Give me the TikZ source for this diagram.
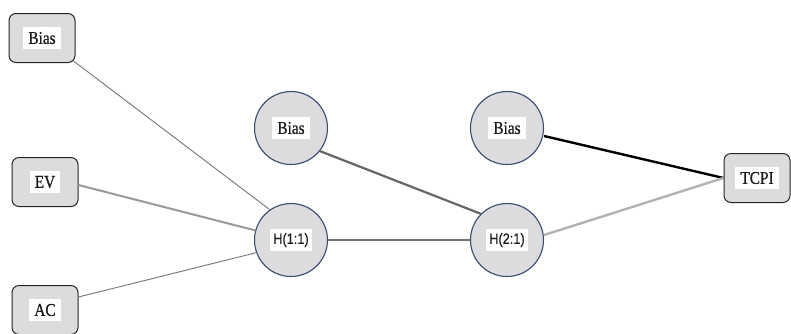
\documentclass[tikz,border=0pt]{standalone}
\usepackage{fontspec}
\setmainfont{Liberation Serif}
\newfontfamily\hfont{Liberation Sans}
\definecolor{ring}{RGB}{55,75,110}
\definecolor{cellfill}{RGB}{220,220,222}
\begin{document}
\begin{tikzpicture}[x=1pt,y=-1pt,
  inbox/.style={draw=black!85,line width=1pt,fill=cellfill,rounded corners=7pt,minimum width=66pt,minimum height=49pt,inner sep=0pt},
  neuron/.style={circle,draw=ring,line width=1.1pt,fill=cellfill,minimum size=73pt,inner sep=0pt},
  lbl/.style={fill=white,inner xsep=5pt,inner ysep=5pt,text=black!90,font=\addfontfeature{FakeStretch=0.85,FakeBold=0.6}\fontsize{18}{19}\selectfont},
  hlbl/.style={fill=white,inner xsep=3pt,inner ysep=4pt,text=black!90,font=\hfont\addfontfeature{FakeStretch=0.85,FakeBold=0.3}\fontsize{15}{16}\selectfont},
  thin/.style={draw=black!55,line width=0.9pt},
  mid/.style={draw=black!40,line width=2pt}]
\useasboundingbox (0,0) rectangle (791,333);
\node[inbox] (bias0) at (42,38) {}; \node[lbl] at (bias0) {Bias};
\node[inbox] (ev) at (45,182) {}; \node[lbl] at (ev) {EV};
\node[inbox] (ac) at (45,310) {}; \node[lbl] at (ac) {AC};
\node[inbox] (tcpi) at (757,178) {}; \node[lbl] at (tcpi) {TCPI};
\node[neuron] (bias1) at (291,128) {}; \node[lbl] at (bias1) {Bias};
\node[neuron] (h11) at (291,240) {}; \node[hlbl] at (h11) {H(1:1)};
\node[neuron] (bias2) at (507,128) {}; \node[lbl] at (bias2) {Bias};
\node[neuron] (h21) at (507,240) {}; \node[hlbl] at (h21) {H(2:1)};
\draw[thin] (bias0.south east) ++(-2,-2) -- (h11.125);
\draw[mid] (ev.east) ++(0,3) -- (h11.165);
\draw[thin] (ac.east) ++(0,-13) -- (h11.200);
\draw[draw=black!55,line width=2pt] (h11.east) -- (h21.west);
\draw[draw=black!60,line width=2.2pt] (bias1.south east) ++(3,-3) -- (h21.135);
\draw[draw=black,line width=2.4pt] (bias2.east) ++(0,8) -- (tcpi.west) ++(0,-8);
\draw[draw=black!30,line width=2.4pt] (h21.east) ++(0,-5) -- (tcpi.west) ++(0,5);
\end{tikzpicture}
\end{document}
